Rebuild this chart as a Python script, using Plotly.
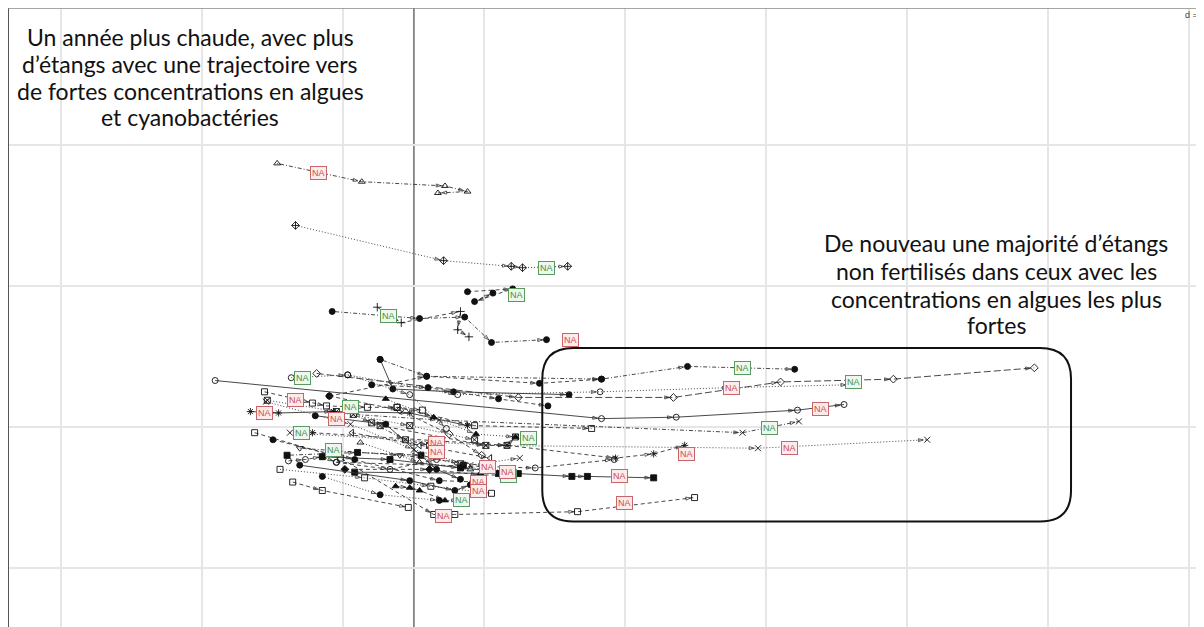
import plotly.graph_objects as go

# ---- trajectories (scores on the first two axes, one list per pond) ----
traj_x = [
    [-0.97, -0.37, 0.22, 0.38, 0.17],
    [-0.84, 0.21, 0.69, 0.77, 1.09],
    [0.38, 0.70, 0.43, 0.56],
    [-0.58, 0.04, 0.36, 0.55, 0.94],
    [-0.26, -0.09, 0.33, 0.31, 0.39],
    [-0.24, 0.09, 1.33, 1.94, 2.70],
    [-0.24, -0.15, 0.28, 1.10],
    [-0.69, 0.74, 1.84, 2.60, 3.40, 4.40],
    [-0.47, 0.31, 1.32, 2.25, 3.09],
    [-1.41, 1.33, 1.86, 2.72, 3.05],
    [-0.12, 0.43, 1.26],
    [-0.43, 0.18, 2.33, 2.73],
    [-0.88, 0.51, 2.44, 3.64],
    [-0.72, 0.66, 1.43, 1.70, 1.92],
    [-0.55, 0.86, 1.42],
    [-0.42, 0.74, 1.12, 1.23, 1.70],
    [-0.86, -0.65, -0.04],
    [-1.13, -0.52, 0.14, 0.29, 1.16, 1.99],
    [-0.87, -0.47, -0.03, 0.23],
    [-1.06, -0.72, -0.62, -0.33, -0.12, 0.06],
    [-1.04, -0.55, -0.03, 0.43],
    [-1.16, -0.96, -0.57, -0.03, 0.38],
    [-0.43, -0.30, -0.06, 0.11],
    [-0.44, 0.04, 0.54],
    [-0.38, 0.04, 0.40],
    [-0.13, -0.03, 0.04, 0.22],
    [-0.89, -0.77, -0.65, -0.55, -0.17, 0.16],
    [-0.65, -0.17, 0.33, 0.65],
    [-1.00, -0.42, 0.18, 0.46],
    [-0.65, -0.24, 0.18, 0.33],
    [-0.24, 0.51, 0.66, 0.72],
    [-0.81, -0.10, 0.33, 0.52],
    [-0.49, 0.11, 0.47, 0.68],
    [-0.81, -0.03, 0.29, 0.40],
    [-0.60, 0.09, 0.89, 1.33],
    [-0.20, 0.14, 0.44, 0.72],
    [-0.90, -0.40, 0.05, 0.35, 0.60],
    [-0.70, -0.20, 0.16, 0.33],
    [-0.60, -0.10, 0.25, 0.48],
    [-1.05, -0.45, 0.00, 0.40, 0.75],
    [-0.30, 0.10, 0.60, 0.95],
    [-0.95, -0.35, 0.12, 0.55],
]
traj_y = [
    [1.87, 1.74, 1.71, 1.67, 1.66],
    [1.43, 1.18, 1.14, 1.13, 1.14],
    [0.96, 0.98, 0.89, 0.95],
    [0.82, 0.77, 0.78, 0.60, 0.62],
    [0.85, 0.74, 0.82, 0.69, 0.64],
    [0.48, 0.36, 0.34, 0.43, 0.41],
    [0.48, 0.27, 0.25, 0.23],
    [0.38, 0.21, 0.21, 0.32, 0.34, 0.42],
    [0.37, 0.23, 0.25, 0.28, 0.30],
    [0.33, 0.06, 0.07, 0.12, 0.16],
    [0.14, 0.01, -0.01],
    [0.09, 0.05, -0.04, 0.04],
    [-0.04, -0.13, -0.15, -0.09],
    [-0.04, -0.13, -0.22, -0.19, -0.13],
    [-0.25, -0.29, -0.23],
    [-0.32, -0.33, -0.35, -0.35, -0.36],
    [-0.39, -0.45, -0.57],
    [-0.04, -0.22, -0.62, -0.62, -0.60, -0.50],
    [0.35, 0.37, 0.23, -0.01],
    [0.25, 0.17, 0.15, 0.14, 0.14, 0.12],
    [0.19, 0.11, 0.01, -0.09],
    [0.11, 0.10, 0.11, 0.10, 0.01],
    [0.09, 0.03, -0.09, -0.13],
    [-0.04, -0.13, -0.22],
    [-0.11, -0.25, -0.30],
    [-0.42, -0.43, -0.45, -0.52],
    [-0.24, -0.23, -0.21, -0.25, -0.30, -0.23],
    [-0.21, -0.23, -0.29, -0.32],
    [-0.09, -0.23, -0.38, -0.39],
    [-0.35, -0.48, -0.52, -0.52],
    [0.01, -0.13, -0.13, -0.07],
    [-0.15, -0.20, -0.25, -0.28],
    [-0.30, -0.30, -0.34, -0.34],
    [-0.27, -0.38, -0.45, -0.41],
    [0.22, 0.36, 0.31, 0.34],
    [0.20, 0.07, -0.05, -0.07],
    [-0.20, -0.18, -0.20, -0.27, -0.33],
    [0.08, 0.02, -0.30, -0.37],
    [0.22, 0.12, -0.05, -0.20],
    [0.18, 0.02, -0.16, -0.27, -0.22],
    [0.30, 0.28, 0.20, 0.15],
    [-0.30, -0.36, -0.42, -0.47],
]
traj_symbol = [
    "triangle-up-open", "diamond-cross-open", "circle", "circle", "cross-thin-open",
    "circle", "circle", "diamond-open", "circle-open", "circle-open",
    "square-open", "x-thin-open", "x-thin-open", "asterisk-open", "circle-open",
    "square", "square-open", "square-open", "circle-open", "square-open",
    "square-x-open", "asterisk-open", "square-x-open", "triangle-left-open",
    "triangle-up-open", "triangle-up", "circle-open", "square", "circle",
    "circle", "square-x-open", "triangle-down-open", "diamond", "circle",
    "circle", "triangle-up", "square", "circle", "diamond-open", "x-thin-open",
    "circle", "square-open",
]
traj_lty = [
    "dotdash", "dotted", "dashed", "dotdash", "dashed",
    "dotdash", "solid", "longdash", "dotted", "solid",
    "dashed", "dotdash", "dotted", "dashed", "dashed",
    "solid", "dashed", "dashed", "dotted", "dashed",
    "dotted", "solid", "dotdash", "dashed", "dotted",
    "dashed", "dashed", "solid", "dashed", "dotted",
    "dashed", "dotdash", "dashed", "solid",
    "dashed", "dotted", "dotdash", "solid", "dashed", "dotted",
    "dashed", "dotted",
]

# ---- "NA" labels (red / green groups) ----
na_red_x = [-0.68, 1.11, -0.84, -1.06, -0.55, 0.16, 0.16, 0.52, 0.66, 0.46, 0.46,
            0.21, 2.25, 2.88, 1.93, 2.66, 1.46, 1.49]
na_red_y = [1.80, 0.62, 0.19, 0.10, 0.06, -0.11, -0.18, -0.28, -0.32, -0.39, -0.45,
            -0.63, 0.28, 0.13, -0.19, -0.15, -0.35, -0.54]
na_green_x = [0.94, 0.73, -0.18, -0.79, -0.45, -0.80, -0.57, 0.81, 0.34, 2.33, 3.12,
              2.52, 0.67]
na_green_y = [1.13, 0.94, 0.79, 0.35, 0.14, -0.04, -0.16, -0.08, -0.52, 0.42, 0.32,
              -0.01, -0.35]

text_left_lines = ["Un année plus chaude, avec plus",
                   "d’étangs avec une trajectoire vers",
                   "de fortes concentrations en algues",
                   "et cyanobactéries"]
text_right_lines = ["De nouveau une majorité d’étangs",
                    "non fertilisés dans ceux avec les",
                    "concentrations en algues les plus",
                    "fortes"]
grid_label = "d = 1"

dash_map = {
    "solid": "solid",
    "dashed": "4px,3px",
    "dotted": "1px,2px",
    "dotdash": "1px,2px,4px,2px",
    "longdash": "7px,3px",
}

fig = go.Figure()
for xs, ys, sym, lty in zip(traj_x, traj_y, traj_symbol, traj_lty):
    fig.add_trace(go.Scatter(
        x=xs, y=ys, mode="lines+markers",
        line=dict(color="#333333", width=0.9, dash=dash_map[lty]),
        marker=dict(symbol=sym, size=6, color="#111111",
                    line=dict(color="#111111", width=0.9)),
        hoverinfo="skip", showlegend=False,
    ))
    fig.add_trace(go.Scatter(
        x=xs, y=ys, mode="markers",
        marker=dict(symbol="arrow-open", angleref="previous",
                    size=[0] + [5] * (len(xs) - 1), standoff=4,
                    color="#222222", line=dict(color="#222222", width=1)),
        hoverinfo="skip", showlegend=False,
    ))

annotations = []
for gx, gy in zip(na_green_x, na_green_y):
    annotations.append(dict(x=gx, y=gy, xref="x", yref="y", text="NA", showarrow=False,
                            font=dict(family="Liberation Sans", size=9, color="#3f8f48"),
                            bgcolor="#eef7ee", bordercolor="#5a9a60", borderwidth=1,
                            borderpad=1))
for rx, ry in zip(na_red_x, na_red_y):
    annotations.append(dict(x=rx, y=ry, xref="x", yref="y", text="NA", showarrow=False,
                            font=dict(family="Liberation Sans", size=9, color="#cc4a52"),
                            bgcolor="#fdeaea", bordercolor="#c9646a", borderwidth=1,
                            borderpad=1))

# text blocks: figure is 1196x619, placed at page offset (8, 8)
left_line_y = [37, 64, 91, 117]
right_line_y = [243, 271, 299, 325]
for line, py in zip(text_left_lines, left_line_y):
    annotations.append(dict(x=(190 - 8) / 1196, y=(627 - py) / 619, xref="paper",
                            yref="paper", text=line, showarrow=False,
                            xanchor="center", yanchor="middle",
                            font=dict(family="Lato", size=23, color="#111111")))
for line, py in zip(text_right_lines, right_line_y):
    annotations.append(dict(x=(996 - 8) / 1196, y=(627 - py) / 619, xref="paper",
                            yref="paper", text=line, showarrow=False,
                            xanchor="center", yanchor="middle",
                            font=dict(family="Lato", size=23, color="#111111")))
annotations.append(dict(x=(1183 - 8) / 1196, y=(627 - 15) / 619, xref="paper",
                        yref="paper", text=grid_label, showarrow=False,
                        xanchor="left", yanchor="middle",
                        font=dict(family="Liberation Sans", size=9, color="#444444")))

# rounded box around the high-concentration group
x0, x1, y0, y1, r = 0.91, 4.66, -0.67, 0.56, 0.22
box_path = (f"M {x0 + r},{y1} L {x1 - r},{y1} Q {x1},{y1} {x1},{y1 - r} "
            f"L {x1},{y0 + r} Q {x1},{y0} {x1 - r},{y0} L {x0 + r},{y0} "
            f"Q {x0},{y0} {x0},{y0 + r} L {x0},{y1 - r} Q {x0},{y1} {x0 + r},{y1} Z")

shapes = [
    dict(type="line", xref="x", yref="paper", x0=0, x1=0, y0=0, y1=1,
         line=dict(color="#222222", width=1), layer="below"),
    dict(type="line", xref="paper", yref="y", x0=0, x1=1, y0=0, y1=0,
         line=dict(color="#333333", width=1), layer="below"),
    dict(type="line", xref="paper", yref="paper", x0=0, x1=0, y0=0, y1=1,
         line=dict(color="#555555", width=2)),
    dict(type="line", xref="paper", yref="paper", x0=0, x1=1, y0=1, y1=1,
         line=dict(color="#888888", width=1.5)),
    dict(type="path", xref="x", yref="y", path=box_path,
         line=dict(color="#111111", width=2)),
]

fig.update_layout(
    width=1196, height=619,
    margin=dict(l=0, r=0, t=0, b=0),
    paper_bgcolor="white", plot_bgcolor="white",
    xaxis=dict(range=[-2.879, 5.603], showgrid=True, gridcolor="#e6e6e6", gridwidth=1.5,
               tick0=0.5, dtick=1, showticklabels=False, zeroline=False, ticks="",
               showline=False),
    yaxis=dict(range=[-1.418, 2.972], showgrid=True, gridcolor="#e6e6e6", gridwidth=1.5,
               tick0=0, dtick=1, showticklabels=False, zeroline=False, ticks="",
               showline=False),
    annotations=annotations,
    shapes=shapes,
)

fig.write_html("out.html")
